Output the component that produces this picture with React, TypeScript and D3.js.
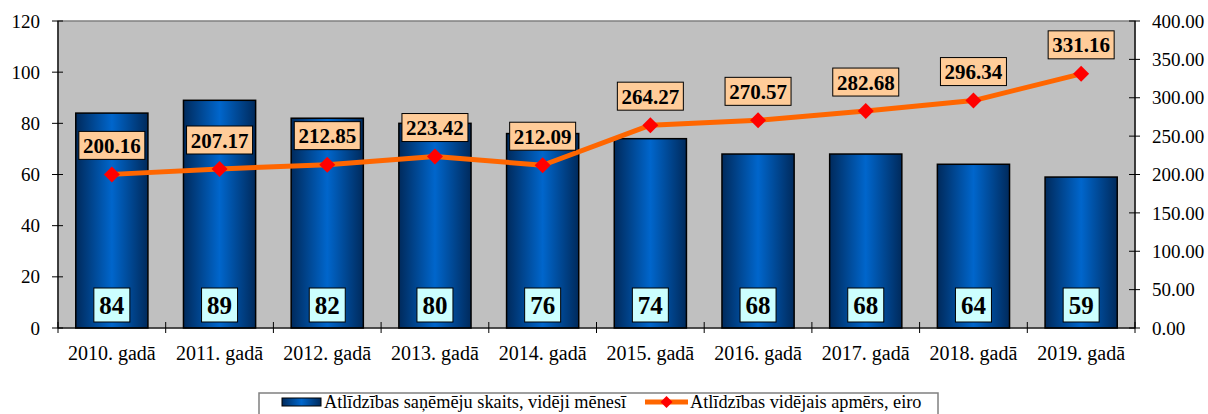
import React from 'react';
import * as d3 from 'd3';

const years = ['2010. gadā', '2011. gadā', '2012. gadā', '2013. gadā', '2014. gadā', '2015. gadā', '2016. gadā', '2017. gadā', '2018. gadā', '2019. gadā'];
const recipients = [84, 89, 82, 80, 76, 74, 68, 68, 64, 59];
const avgAmount = [200.16, 207.17, 212.85, 223.42, 212.09, 264.27, 270.57, 282.68, 296.34, 331.16];
const leftTicks = [0, 20, 40, 60, 80, 100, 120];
const rightTicks = [0, 50, 100, 150, 200, 250, 300, 350, 400];
const legendLabels = ['Atlīdzības saņēmēju skaits, vidēji mēnesī', 'Atlīdzības vidējais apmērs, eiro'];

const W = 1208;
const H = 414;
const plot = { left: 58, right: 1135, top: 21, bottom: 328 };
const font = 'Liberation Serif';

export default function App() {
  const x = d3.scaleBand<string>().domain(years).range([plot.left, plot.right]).paddingInner(0.33).paddingOuter(0.165);
  const band = (plot.right - plot.left) / years.length;
  const yL = d3.scaleLinear().domain([0, 120]).range([plot.bottom, plot.top]);
  const yR = d3.scaleLinear().domain([0, 400]).range([plot.bottom, plot.top]);
  const cx = (d: string) => (x(d) as number) + x.bandwidth() / 2;

  const line = d3.line<number>()
    .x((_, i) => cx(years[i]))
    .y(d => yR(d));

  const diamond = (px: number, py: number, r: number) =>
    `M${px},${py - r}L${px + r},${py}L${px},${py + r}L${px - r},${py}Z`;

  const ts = { fontFamily: font };

  return (
    <svg width={W} height={H} style={{ position: 'absolute', left: 0, top: 0 }}>
      <defs>
        <linearGradient id="barGrad" x1="0" x2="1" y1="0" y2="0">
          <stop offset="0" stopColor="#002A5C" />
          <stop offset="0.5" stopColor="#0066CC" />
          <stop offset="1" stopColor="#002A5C" />
        </linearGradient>
      </defs>
      <rect x={0} y={0} width={W} height={H} fill="#fff" />
      {/* plot area */}
      <rect x={plot.left} y={plot.top} width={plot.right - plot.left} height={plot.bottom - plot.top} fill="#C0C0C0" stroke="#808080" strokeWidth={1.5} />

      {/* bars */}
      {recipients.map((v, i) => (
        <rect key={'b' + i} x={x(years[i])} y={yL(v)} width={x.bandwidth()} height={plot.bottom - yL(v)}
          fill="url(#barGrad)" stroke="#000" strokeWidth={1.5} />
      ))}

      {/* axes */}
      <line x1={plot.left} x2={plot.left} y1={plot.top} y2={plot.bottom} stroke="#000" strokeWidth={1.2} />
      <line x1={plot.right} x2={plot.right} y1={plot.top} y2={plot.bottom} stroke="#000" strokeWidth={1.2} />
      <line x1={plot.left} x2={plot.right} y1={plot.bottom} y2={plot.bottom} stroke="#000" strokeWidth={1.2} />
      {leftTicks.map(t => (
        <g key={'l' + t}>
          <line x1={plot.left - 6} x2={plot.left + 5} y1={yL(t)} y2={yL(t)} stroke="#000" />
          <text x={plot.left - 18} y={yL(t)} dy="0.35em" textAnchor="end" fontSize={19} style={ts}>{t}</text>
        </g>
      ))}
      {rightTicks.map(t => (
        <g key={'r' + t}>
          <line x1={plot.right - 6} x2={plot.right + 5} y1={yR(t)} y2={yR(t)} stroke="#000" />
          <text x={plot.right + 17} y={yR(t)} dy="0.35em" textAnchor="start" fontSize={19} style={ts}>{t.toFixed(2)}</text>
        </g>
      ))}
      {d3.range(years.length + 1).map(i => (
        <line key={'xt' + i} x1={plot.left + i * band} x2={plot.left + i * band} y1={plot.bottom - 6} y2={plot.bottom + 5} stroke="#000" />
      ))}
      {years.map(d => (
        <text key={'xl' + d} x={cx(d)} y={353} dy="0.35em" textAnchor="middle" fontSize={20} style={ts}>{d}</text>
      ))}

      {/* bar value labels */}
      {recipients.map((v, i) => (
        <g key={'bl' + i}>
          <rect x={cx(years[i]) - 18} y={288} width={36} height={34} fill="#CCFFFF" stroke="#000" strokeWidth={1} />
          <text x={cx(years[i])} y={305} dy="0.36em" textAnchor="middle" fontSize={25} fontWeight="bold" style={ts}>{v}</text>
        </g>
      ))}

      {/* line */}
      <path d={line(avgAmount) ?? ''} fill="none" stroke="#FF6600" strokeWidth={5} strokeLinejoin="round" />
      {avgAmount.map((v, i) => (
        <path key={'m' + i} d={diamond(cx(years[i]), yR(v), 8)} fill="#FF0000" />
      ))}
      {avgAmount.map((v, i) => (
        <g key={'ll' + i}>
          <rect x={cx(years[i]) - 33} y={yR(v) - 43} width={66} height={28} fill="#FFCC99" stroke="#000" strokeWidth={1} />
          <text x={cx(years[i])} y={yR(v) - 29} dy="0.36em" textAnchor="middle" fontSize={21} fontWeight="bold" style={ts}>{v.toFixed(2)}</text>
        </g>
      ))}

      {/* legend */}
      <rect x={259} y={393} width={679} height={30} fill="#fff" stroke="#808080" strokeWidth={1.5} />
      <rect x={282} y={398} width={39} height={8} fill="url(#barGrad)" stroke="#000" strokeWidth={1} />
      <text x={324} y={402} dy="0.35em" fontSize={18.3} style={ts}>{legendLabels[0]}</text>
      <line x1={645} x2={688} y1={402} y2={402} stroke="#FF6600" strokeWidth={5} />
      <path d={diamond(666.5, 402, 6)} fill="#FF0000" />
      <text x={690} y={402} dy="0.35em" fontSize={18.3} style={ts}>{legendLabels[1]}</text>
    </svg>
  );
}
